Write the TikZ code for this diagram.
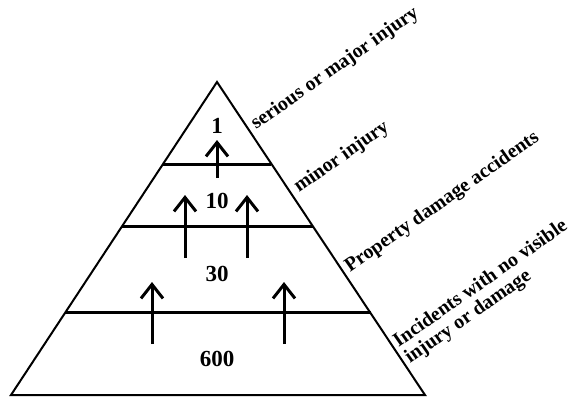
\documentclass[tikz,border=0pt]{standalone}
\usepackage{fontspec}
\setmainfont{Liberation Serif}
\usetikzlibrary{calc,arrows.meta}
\begin{document}
\begin{tikzpicture}[x=1pt,y=-1pt,
  side/.style={line width=2pt,line join=miter},
  divider/.style={line width=3pt},
  uparrow/.style={line width=3pt,-{Straight Barb[length=14pt,width=22pt,line width=3pt]}},
  count/.style={font=\fontsize{23}{23}\selectfont\bfseries},
  tier/.style={font=\fontsize{20}{20}\selectfont\bfseries,rotate=35,anchor=base west,inner sep=0pt,align=left}]
\useasboundingbox (0,0) rectangle (579,399);
% pyramid outline
\coordinate (apex) at (217,82);
\coordinate (bl) at (11,395);
\coordinate (br) at (425,395);
\draw[side] (apex) -- (bl) -- (br) -- cycle;
% tier dividers
\foreach \t in {0.262,0.463,0.738}{
  \draw[divider] ($(apex)!\t!(bl)$) -- ($(apex)!\t!(br)$);
}
% counts
\node[count] (n1) at (217,126) {1};
\node[count] (n10) at (217,201) {10};
\node[count] (n30) at (217,274) {30};
\node[count] (n600) at (217,359) {600};
% upward arrows
\coordinate (a1s) at (217,178); \coordinate (a1e) at (217,140);
\coordinate (a2s) at (185,258); \coordinate (a2e) at (185,195);
\coordinate (a3s) at (247,258); \coordinate (a3e) at (247,195);
\coordinate (a4s) at (152,344); \coordinate (a4e) at (152,282);
\coordinate (a5s) at (284,344); \coordinate (a5e) at (284,282);
\foreach \i in {1,...,5}{\draw[uparrow] (a\i s) -- (a\i e);}
% tier labels
\node[tier] (l1) at (256,130) {serious or major injury};
\node[tier] (l2) at (299,193) {minor injury};
\node[tier] (l3) at (350,273) {Property damage accidents};
\node[tier] (l4) at (410,364) {Incidents with no visible\\injury or damage};
\end{tikzpicture}
\end{document}
